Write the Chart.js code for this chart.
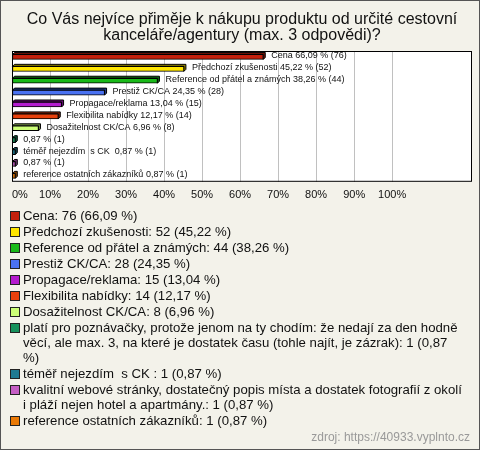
<!DOCTYPE html>
<html>
<head>
<meta charset="utf-8">
<script src="https://cdn.jsdelivr.net/npm/chart.js@4/dist/chart.umd.min.js"></script>
<style>
  html, body { margin: 0; padding: 0; }
  #frame {
    position: relative; width: 478px; height: 448px;
    border: 1px solid #555; background: #f3f2ea;
    font-family: "Liberation Sans", Arial, sans-serif; overflow: hidden;
  }
  #chWrap { position: absolute; left: 0; top: 0; width: 478px; height: 208px; }
  #legend { position: absolute; left: 9px; top: 207px; width: 452px; font-size: 13.2px; color: #111; }
  .item { display: flex; align-items: flex-start; line-height: 15px; margin-bottom: 1px; white-space: pre-wrap; }
  .box { flex: none; width: 8px; height: 8px; border: 1px solid #222; margin: 3px 3px 0 0; }
  #src { position: absolute; right: 9px; top: 429px; font-size: 12px; color: #999; }
</style>
</head>
<body>
<div id="frame">
  <div id="chWrap"><canvas id="chBar"></canvas></div>
  <div id="legend"></div>
  <div id="src">zdroj: https://40933.vyplnto.cz</div>
</div>
<script>
// answers (full text for legend, short text next to bars)
var categories = [
  'Cena',
  'Předchozí zkušenosti',
  'Reference od přátel a známých',
  'Prestiž CK/CA',
  'Propagace/reklama',
  'Flexibilita nabídky',
  'Dosažitelnost CK/CA',
  'platí pro poznávačky, protože jenom na ty chodím: že nedají za den hodně věcí, ale max. 3, na které je dostatek času (tohle najít, je zázrak)',
  'téměř nejezdím  s CK ',
  'kvalitní webové stránky, dostatečný popis místa a dostatek fotografií z okolí i pláží nejen hotel a apartmány.',
  'reference ostatních zákazníků'
];
var barLabels = [
  'Cena', 'Předchozí zkušenosti', 'Reference od přátel a známých', 'Prestiž CK/CA',
  'Propagace/reklama', 'Flexibilita nabídky', 'Dosažitelnost CK/CA', '',
  'téměř nejezdím  s CK ', '', 'reference ostatních zákazníků'
];
var counts = [76, 52, 44, 28, 15, 14, 8, 1, 1, 1, 1];
var percents = [66.09, 45.22, 38.26, 24.35, 13.04, 12.17, 6.96, 0.87, 0.87, 0.87, 0.87];
var tickValues = [0, 10, 20, 30, 40, 50, 60, 70, 80, 90, 100];
var axisMax = 121;

// colors
var fills = ['#c4200c','#ffe600','#19b919','#4a72f2','#b41ccf','#e8400c','#ccff77','#16915c','#1f7a92','#c55ec5','#ea7a06'];
var sides = ['#6e1207','#8f8100','#0c660c','#233d8c','#640f73','#82230a','#6f8c40','#0b5034','#0f4452','#6d336d','#854503'];

function fmt(v) { return v.toFixed(2).replace('.', ','); }

// legend
var legend = document.getElementById('legend');
categories.forEach(function (c, i) {
  var d = document.createElement('div');
  d.className = 'item';
  var b = document.createElement('span');
  b.className = 'box';
  b.style.background = fills[i];
  var t = document.createElement('span');
  t.textContent = c + ': ' + counts[i] + ' (' + fmt(percents[i]) + ' %)';
  d.appendChild(b); d.appendChild(t);
  legend.appendChild(d);
});

// white plot area + frame
var plotBox = {
  id: 'plotBox',
  beforeDraw: function (chart) {
    var a = chart.chartArea, ctx = chart.ctx;
    ctx.save();
    ctx.fillStyle = '#ffffff';
    ctx.fillRect(a.left, a.top, a.right - a.left, a.bottom - a.top);
    ctx.restore();
  },
  afterDraw: function (chart) {
    var a = chart.chartArea, ctx = chart.ctx;
    ctx.save();
    ctx.strokeStyle = '#000';
    ctx.lineWidth = 1;
    ctx.strokeRect(a.left + 0.5, a.top + 0.5, a.right - a.left - 1, a.bottom - a.top - 1);
    ctx.restore();
  }
};

// fake 3d depth behind each bar, plus the text after it
var barDepth = {
  id: 'barDepth',
  beforeDatasetsDraw: function (chart) {
    var ctx = chart.ctx, d = 2;
    chart.getDatasetMeta(0).data.forEach(function (bar, i) {
      var l = bar.base, r = bar.x, t = bar.y - bar.height / 2, b = bar.y + bar.height / 2;
      ctx.save();
      ctx.beginPath();
      ctx.moveTo(l, t);
      ctx.lineTo(l + d, t - d);
      ctx.lineTo(r + d, t - d);
      ctx.lineTo(r + d, b - d);
      ctx.lineTo(r, b);
      ctx.lineTo(r, t);
      ctx.closePath();
      ctx.fillStyle = sides[i];
      ctx.fill();
      ctx.strokeStyle = '#000';
      ctx.lineWidth = 1;
      ctx.stroke();
      ctx.restore();
    });
  },
  afterDatasetsDraw: function (chart) {
    var ctx = chart.ctx;
    ctx.save();
    ctx.font = '9px "Liberation Sans", Arial, sans-serif';
    ctx.fillStyle = '#111';
    ctx.textBaseline = 'middle';
    chart.getDatasetMeta(0).data.forEach(function (bar, i) {
      var txt = (barLabels[i] ? barLabels[i] + ' ' : '') + fmt(percents[i]) + ' % (' + counts[i] + ')';
      ctx.fillText(txt, bar.x + 8, bar.y - 1);
    });
    ctx.restore();
  }
};

var chBar = document.getElementById('chBar');
if (chBar) {
  new Chart(chBar, {
    type: 'bar',
    data: {
      labels: categories,
      datasets: [{
        data: percents,
        backgroundColor: fills,
        borderColor: '#000',
        borderWidth: 1,
        borderSkipped: false,
        barThickness: 5
      }]
    },
    options: {
      indexAxis: 'y',
      animation: false,
      responsive: true,
      maintainAspectRatio: false,
      layout: { padding: { left: 11, right: 7, top: 0, bottom: 0 } },
      plugins: {
        legend: { display: false },
        tooltip: { enabled: false },
        title: {
          display: true,
          text: ['Co Vás nejvíce přiměje k nákupu produktu od určité cestovní', 'kanceláře/agentury (max. 3 odpovědi)?'],
          color: '#111',
          font: { family: '"Liberation Sans", Arial, sans-serif', size: 16, weight: 'normal', lineHeight: 1.0 },
          padding: { top: 11, bottom: 7 }
        }
      },
      scales: {
        x: {
          min: 0,
          max: axisMax,
          afterBuildTicks: function (scale) {
            // 0..100 labelled, plus an empty tick at the right edge
            scale.ticks = tickValues.concat([axisMax]).map(function (v) { return { value: v }; });
          },
          afterFit: function (scale) {
            // keep the plot's left edge at the layout padding
            scale.paddingLeft = 0;
            scale.paddingRight = 0;
          },
          ticks: {
            callback: function (v) { return v <= 100 ? v + '%' : ''; },
            color: '#111',
            font: { family: '"Liberation Sans", Arial, sans-serif', size: 11 },
            padding: 7,
            align: 'inner',
            maxRotation: 0
          },
          grid: {
            color: function (c) { return c.tick && c.tick.value > 100 ? 'rgba(0,0,0,0)' : '#c0c0c0'; },
            drawTicks: false
          },
          border: { display: false }
        },
        y: {
          display: false,
          offset: true
        }
      }
    },
    plugins: [plotBox, barDepth]
  });
}
</script>
</body>
</html>
